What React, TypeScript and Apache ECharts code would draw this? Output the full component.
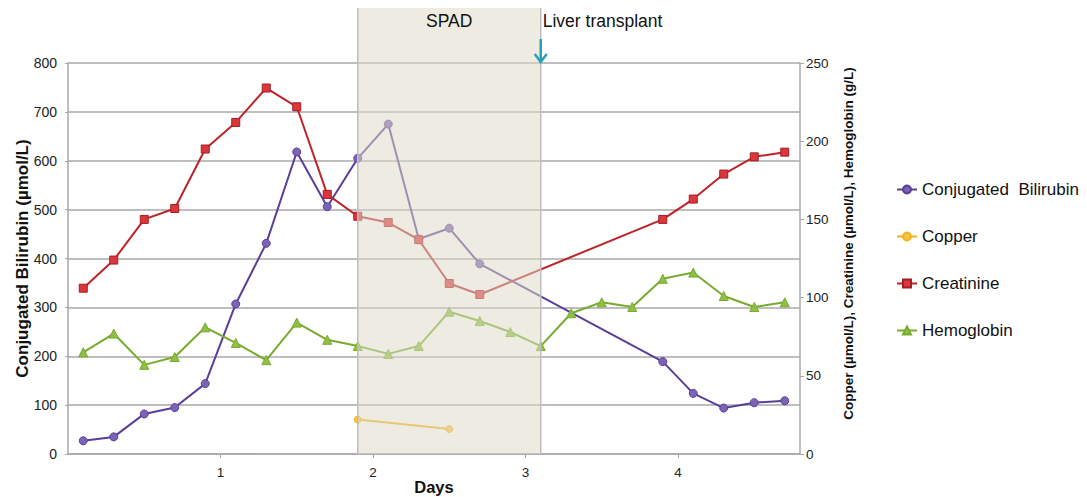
import React, { useEffect, useRef } from "react";
import * as echarts from "echarts";

// ---- data ----
const labDays = [0.1, 0.3, 0.5, 0.7, 0.9, 1.1, 1.3, 1.5, 1.7, 1.9, 2.1, 2.3, 2.5, 2.7, 3.9, 4.1, 4.3, 4.5, 4.7];
const bilirubin = [27, 35, 82, 95, 144, 307, 431, 618, 506, 605, 675, 440, 462, 389, 189, 124, 94, 105, 109];
const creatinine = [106, 124, 150, 157, 195, 212, 234, 222, 166, 152, 148, 137, 109, 102, 150, 163, 179, 190, 193];
const copperDays = [1.9, 2.5];
const copper = [22, 16];
const hbDays = [0.1, 0.3, 0.5, 0.7, 0.9, 1.1, 1.3, 1.5, 1.7, 1.9, 2.1, 2.3, 2.5, 2.7, 2.9, 3.1, 3.3, 3.5, 3.7, 3.9, 4.1, 4.3, 4.5, 4.7];
const hemoglobin = [65, 77, 57, 62, 81, 71, 60, 84, 73, 69, 64, 69, 91, 85, 78, 69, 90, 97, 94, 112, 116, 101, 94, 97];
const xTicks = [1, 2, 3, 4];
const spadStart = 1.9;
const spadEnd = 3.1;
const transplantDay = 3.1;

const FONT = "Liberation Sans, Arial, Helvetica, sans-serif";

const pairs = (xs: number[], ys: number[]) => xs.map((x, i) => [x, ys[i]]);

export default function App() {
  const ref = useRef<HTMLDivElement>(null);
  useEffect(() => {
    document.body.style.margin = "0";
    const chart = echarts.init(ref.current!, null, { renderer: "svg" });
    const gridColor = "#a8a8a8";
    chart.setOption({
      animation: false,
      backgroundColor: "#ffffff",
      textStyle: { fontFamily: FONT },
      grid: { left: 68, right: 287, top: 63, bottom: 43, containLabel: false, outerBoundsMode: "none" },
      legend: {
        orient: "vertical",
        left: 891,
        top: 176,
        itemGap: 30,
        itemWidth: 20,
        itemHeight: 10,
        textStyle: { fontSize: 17, color: "#111", fontFamily: FONT },
        data: ["Conjugated  Bilirubin", "Copper", "Creatinine", "Hemoglobin"],
      },
      xAxis: {
        type: "value",
        min: 0,
        max: 4.8,
        interval: 1,
        name: "Days",
        nameLocation: "middle",
        nameGap: 24,
        nameMoveOverlap: false,
        nameTextStyle: { fontSize: 16.5, fontWeight: "bold", color: "#111", fontFamily: FONT },
        axisLine: { lineStyle: { color: gridColor, width: 1.5 } },
        axisTick: { show: true, length: 4, lineStyle: { color: gridColor }, customValues: xTicks },
        axisLabel: { fontSize: 13.5, color: "#222", margin: 11, customValues: xTicks },
        splitLine: { show: false },
      },
      yAxis: [
        {
          type: "value",
          min: 0,
          max: 800,
          interval: 100,
          name: "Conjugated Bilirubin (µmol/L)",
          nameLocation: "middle",
          nameRotate: 90,
          nameGap: 37,
          nameMoveOverlap: false,
          nameTextStyle: { fontSize: 17, fontWeight: "bold", color: "#111", fontFamily: FONT },
          axisLine: { show: true, lineStyle: { color: gridColor, width: 1.5 } },
          axisTick: { show: true, length: 3, lineStyle: { color: gridColor } },
          axisLabel: { fontSize: 14, color: "#222", margin: 11 },
          splitLine: { show: true, lineStyle: { color: gridColor, width: 1.6 } },
        },
        {
          type: "value",
          min: 0,
          max: 250,
          interval: 50,
          position: "right",
          name: "Copper (µmol/L), Creatinine (µmol/L), Hemoglobin (g/L)",
          nameLocation: "middle",
          nameRotate: 90,
          nameGap: 41,
          nameMoveOverlap: false,
          nameTextStyle: {
            fontSize: 13.5,
            fontWeight: "bold",
            color: "#111",
            fontFamily: FONT,
            padding: [0, 0, 0, 30],
          },
          axisLine: { show: true, lineStyle: { color: gridColor, width: 1.5 } },
          axisTick: { show: true, length: 4, lineStyle: { color: gridColor } },
          axisLabel: { fontSize: 13.5, color: "#222", margin: 6 },
          splitLine: { show: false },
        },
      ],
      series: [
        {
          name: "Conjugated  Bilirubin",
          type: "line",
          yAxisIndex: 0,
          data: pairs(labDays, bilirubin),
          symbol: "circle",
          symbolSize: 8,
          lineStyle: { color: "#5a3e9a", width: 2 },
          itemStyle: { color: "#7b63b5", borderColor: "#5a3e9a", borderWidth: 1 },
          z: 3,
        },
        {
          name: "Copper",
          type: "line",
          yAxisIndex: 1,
          data: pairs(copperDays, copper),
          symbol: "circle",
          symbolSize: 7,
          lineStyle: { color: "#f2b21f", width: 2 },
          itemStyle: { color: "#f6c445", borderColor: "#f2b21f", borderWidth: 1 },
          z: 3,
        },
        {
          name: "Creatinine",
          type: "line",
          yAxisIndex: 1,
          data: pairs(labDays, creatinine),
          symbol: "rect",
          symbolSize: 8,
          lineStyle: { color: "#bf2228", width: 2 },
          itemStyle: { color: "#d9373b", borderColor: "#a61c22", borderWidth: 1 },
          z: 3,
        },
        {
          name: "Hemoglobin",
          type: "line",
          yAxisIndex: 1,
          data: pairs(hbDays, hemoglobin),
          symbol: "triangle",
          symbolSize: 9,
          lineStyle: { color: "#78ab2d", width: 2 },
          itemStyle: { color: "#8fbf45", borderColor: "#78ab2d", borderWidth: 1 },
          z: 3,
        },
      ],
    });

    const x0 = chart.convertToPixel({ xAxisIndex: 0 }, spadStart) as number;
    const x1 = chart.convertToPixel({ xAxisIndex: 0 }, spadEnd) as number;
    const xt = chart.convertToPixel({ xAxisIndex: 0 }, transplantDay) as number;
    const yb = chart.convertToPixel({ yAxisIndex: 0 }, 0) as number;
    const yTop = chart.convertToPixel({ yAxisIndex: 0 }, 800) as number;
    const top = 8;
    const arrowColor = "#27a2b6";

    chart.setOption({
      graphic: [
        {
          type: "rect",
          z: 50,
          shape: { x: x0, y: top, width: x1 - x0, height: yb - top },
          style: { fill: "rgba(222,219,199,0.52)" },
          silent: true,
        },
        {
          type: "line",
          z: 51,
          shape: { x1: x0, y1: top, x2: x0, y2: yb },
          style: { stroke: "#bdbdbd", lineWidth: 1.5 },
        },
        {
          type: "line",
          z: 51,
          shape: { x1: x1, y1: top, x2: x1, y2: yb },
          style: { stroke: "#bdbdbd", lineWidth: 1.5 },
        },
        {
          type: "text",
          z: 52,
          x: (x0 + x1) / 2,
          y: 21,
          style: {
            text: "SPAD",
            fontSize: 17.5,
            fontFamily: FONT,
            fill: "#111",
            textAlign: "center",
            textVerticalAlign: "middle",
          },
        },
        {
          type: "text",
          z: 52,
          x: xt + 2,
          y: 21,
          style: {
            text: "Liver transplant",
            fontSize: 17.5,
            fontFamily: FONT,
            fill: "#111",
            textAlign: "left",
            textVerticalAlign: "middle",
          },
        },
        {
          type: "line",
          z: 53,
          shape: { x1: xt, y1: 39, x2: xt, y2: yTop },
          style: { stroke: arrowColor, lineWidth: 2.5 },
        },
        {
          type: "polyline",
          z: 53,
          shape: { points: [[xt - 6, yTop - 9], [xt, yTop - 1], [xt + 6, yTop - 9]] },
          style: { stroke: arrowColor, lineWidth: 2.5, fill: "none" },
        },
      ],
    });

    return () => chart.dispose();
  }, []);
  return <div ref={ref} style={{ width: 1087, height: 497 }} />;
}
